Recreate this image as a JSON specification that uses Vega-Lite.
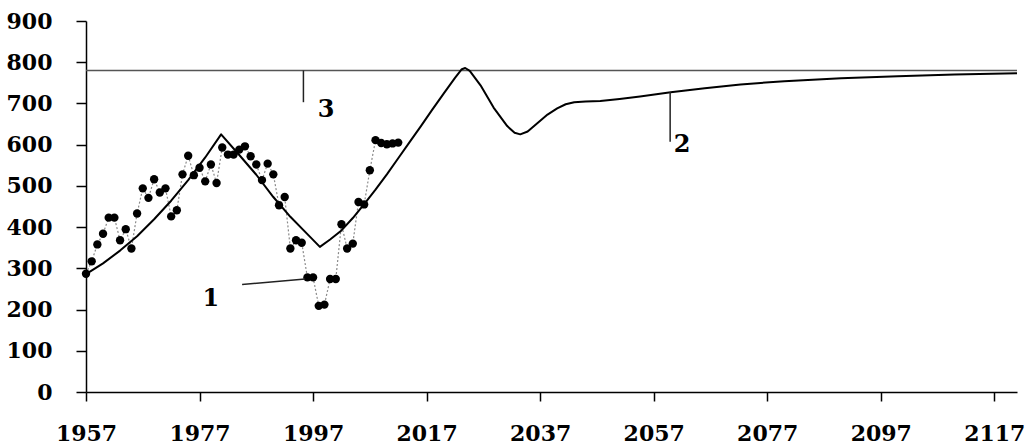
{
  "$schema": "https://vega.github.io/schema/vega-lite/v6.json",
  "width": 931,
  "height": 371,
  "autosize": {"type": "none"},
  "padding": {"left": 86, "top": 21, "right": 13, "bottom": 55},
  "background": "white",
  "config": {
    "view": {"stroke": null},
    "axis": {
      "grid": false,
      "domainColor": "black",
      "domainWidth": 1.5,
      "tickColor": "black",
      "tickWidth": 1.5,
      "labelColor": "black",
      "labelFont": "DejaVu Serif",
      "labelFontWeight": "bold",
      "labelFontSize": 22,
      "labelFlush": false,
      "labelOverlap": false,
      "title": null
    }
  },
  "datasets": {
    "ref": [{"value": 780}],
    "obs": [
      {"year": 1957, "value": 287}, {"year": 1958, "value": 317}, {"year": 1959, "value": 358},
      {"year": 1960, "value": 384}, {"year": 1961, "value": 423}, {"year": 1962, "value": 423},
      {"year": 1963, "value": 368}, {"year": 1964, "value": 395}, {"year": 1965, "value": 348},
      {"year": 1966, "value": 433}, {"year": 1967, "value": 494}, {"year": 1968, "value": 471},
      {"year": 1969, "value": 516}, {"year": 1970, "value": 484}, {"year": 1971, "value": 494},
      {"year": 1972, "value": 426}, {"year": 1973, "value": 441}, {"year": 1974, "value": 528},
      {"year": 1975, "value": 573}, {"year": 1976, "value": 526}, {"year": 1977, "value": 544},
      {"year": 1978, "value": 511}, {"year": 1979, "value": 552}, {"year": 1980, "value": 507},
      {"year": 1981, "value": 593}, {"year": 1982, "value": 576}, {"year": 1983, "value": 576},
      {"year": 1984, "value": 588}, {"year": 1985, "value": 596}, {"year": 1986, "value": 572},
      {"year": 1987, "value": 552}, {"year": 1988, "value": 514}, {"year": 1989, "value": 554},
      {"year": 1990, "value": 528}, {"year": 1991, "value": 453}, {"year": 1992, "value": 473},
      {"year": 1993, "value": 348}, {"year": 1994, "value": 368}, {"year": 1995, "value": 362},
      {"year": 1996, "value": 278}, {"year": 1997, "value": 278}, {"year": 1998, "value": 209},
      {"year": 1999, "value": 212}, {"year": 2000, "value": 274}, {"year": 2001, "value": 274},
      {"year": 2002, "value": 407}, {"year": 2003, "value": 348}, {"year": 2004, "value": 360},
      {"year": 2005, "value": 461}, {"year": 2006, "value": 455}, {"year": 2007, "value": 538},
      {"year": 2008, "value": 611}, {"year": 2009, "value": 604}, {"year": 2010, "value": 601},
      {"year": 2011, "value": 603}, {"year": 2012, "value": 605}
    ],
    "model": [
      {"year": 1957, "value": 286}, {"year": 1960, "value": 312}, {"year": 1963, "value": 343},
      {"year": 1966, "value": 378}, {"year": 1969, "value": 419}, {"year": 1972, "value": 464},
      {"year": 1975, "value": 514}, {"year": 1978, "value": 569}, {"year": 1980.8, "value": 625},
      {"year": 1984, "value": 575}, {"year": 1987, "value": 527}, {"year": 1990, "value": 473},
      {"year": 1993, "value": 425}, {"year": 1996, "value": 383}, {"year": 1998.2, "value": 352},
      {"year": 2000, "value": 370}, {"year": 2002, "value": 392}, {"year": 2004, "value": 422},
      {"year": 2006, "value": 456}, {"year": 2008, "value": 491}, {"year": 2010, "value": 528},
      {"year": 2012, "value": 567}, {"year": 2014, "value": 606}, {"year": 2016, "value": 645},
      {"year": 2018, "value": 685}, {"year": 2020, "value": 724}, {"year": 2022, "value": 762},
      {"year": 2023.2, "value": 783}, {"year": 2023.8, "value": 786}, {"year": 2024.6, "value": 779},
      {"year": 2026.5, "value": 744}, {"year": 2028.8, "value": 690}, {"year": 2031.2, "value": 645},
      {"year": 2032.5, "value": 629}, {"year": 2033.5, "value": 625}, {"year": 2034.8, "value": 632},
      {"year": 2036.5, "value": 652}, {"year": 2038.3, "value": 673}, {"year": 2040, "value": 688},
      {"year": 2041.5, "value": 698}, {"year": 2043, "value": 703}, {"year": 2045, "value": 705},
      {"year": 2047.6, "value": 706}, {"year": 2051, "value": 711}, {"year": 2054.6, "value": 717},
      {"year": 2060, "value": 727}, {"year": 2066, "value": 737}, {"year": 2072.3, "value": 746},
      {"year": 2080, "value": 754}, {"year": 2090, "value": 761}, {"year": 2100, "value": 766},
      {"year": 2110, "value": 770}, {"year": 2121, "value": 773}
    ],
    "leaders": [
      {"x": 1984.5, "y": 261, "x2": 1995.6, "y2": 274},
      {"x": 2059.9, "y": 728, "x2": 2059.9, "y2": 607},
      {"x": 1995.3, "y": 780, "x2": 1995.3, "y2": 703}
    ],
    "labels": [
      {"x": 1979, "y": 226, "label": "1"},
      {"x": 2062, "y": 598, "label": "2"},
      {"x": 1999.3, "y": 684, "label": "3"}
    ]
  },
  "layer": [
    {
      "data": {"name": "ref"},
      "mark": {"type": "rule", "color": "#555555", "strokeWidth": 1.5},
      "encoding": {"y": {"field": "value", "type": "quantitative", "scale": {"domain": [0, 900], "nice": false}}}
    },
    {
      "data": {"name": "obs"},
      "mark": {"type": "line", "color": "#8a8a8a", "strokeWidth": 1.2, "strokeDash": [2, 2]},
      "encoding": {
        "x": {"field": "year", "type": "quantitative", "scale": {"domain": [1957, 2121], "nice": false},
              "axis": {"values": [1957, 1977, 1997, 2017, 2037, 2057, 2077, 2097, 2117], "format": "d", "tickSize": 9, "labelPadding": 22}},
        "y": {"field": "value", "type": "quantitative",
              "axis": {"values": [0, 100, 200, 300, 400, 500, 600, 700, 800, 900], "tickSize": 10, "labelPadding": 24}}
      }
    },
    {
      "data": {"name": "obs"},
      "mark": {"type": "point", "filled": true, "color": "black", "size": 70, "opacity": 1},
      "encoding": {
        "x": {"field": "year", "type": "quantitative"},
        "y": {"field": "value", "type": "quantitative"}
      }
    },
    {
      "data": {"name": "model"},
      "mark": {"type": "line", "color": "black", "strokeWidth": 2, "strokeJoin": "round"},
      "encoding": {
        "x": {"field": "year", "type": "quantitative"},
        "y": {"field": "value", "type": "quantitative"}
      }
    },
    {
      "data": {"name": "leaders"},
      "mark": {"type": "rule", "color": "#222222", "strokeWidth": 1.5},
      "encoding": {
        "x": {"field": "x", "type": "quantitative"},
        "y": {"field": "y", "type": "quantitative"},
        "x2": {"field": "x2"},
        "y2": {"field": "y2"}
      }
    },
    {
      "data": {"name": "labels"},
      "mark": {"type": "text", "font": "DejaVu Serif", "fontWeight": "bold", "fontSize": 24, "color": "black"},
      "encoding": {
        "x": {"field": "x", "type": "quantitative"},
        "y": {"field": "y", "type": "quantitative"},
        "text": {"field": "label"}
      }
    }
  ]
}
